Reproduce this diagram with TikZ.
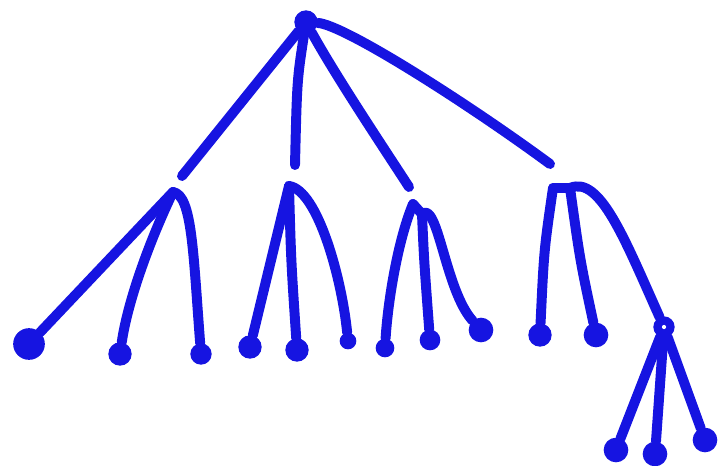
\documentclass[tikz,border=0pt]{standalone}
\usepackage{xcolor}
\usepackage{tikz}
\definecolor{inkblue}{RGB}{22,20,225}

\begin{document}
\begin{tikzpicture}[x=0.03cm,y=-0.03cm,
  pen/.style={line width=8.5pt,draw=inkblue,line cap=round,line join=round},
  blob/.style={circle,fill=inkblue,inner sep=0pt,minimum size=#1}]
  \useasboundingbox (0,0) rectangle (718,465);
  % top and the four inner points
  \node[blob=7mm] (root) at (306,22) {};
  \coordinate (e1) at (182,176); \coordinate (e2) at (295,165);
  \coordinate (e3) at (409,187); \coordinate (e4) at (550,164);
  \coordinate (a1) at (173,192); \coordinate (a2) at (289,186);
  \coordinate (a3) at (413,204); \coordinate (a4) at (553,188);
  \coordinate (b3) at (422,214); \coordinate (b4) at (570,188);
  \draw[pen] (root) -- (e1);
  \draw[pen] (root) .. controls (297,80) .. (e2);
  \draw[pen] (root) .. controls (335,75) and (385,150) .. (e3);
  \draw[pen] (root) .. controls (345,25) and (470,105) .. (e4);
  % leaves
  \node[blob=9.5mm] (l11) at (29,344) {};
  \node[blob=7mm] (l12) at (120,354) {};
  \node[blob=6.4mm] (l13) at (201,354) {};
  \node[blob=7mm] (l21) at (250,347) {};
  \node[blob=7mm] (l22) at (297,350) {};
  \node[blob=5mm] (l23) at (348,341) {};
  \node[blob=5.6mm] (l31) at (385,348) {};
  \node[blob=6.2mm] (l32) at (430,340) {};
  \node[blob=7.4mm] (l33) at (481,330) {};
  \node[blob=7mm] (l41) at (540,335) {};
  \node[blob=7.4mm] (l42) at (596,335) {};
  \node[blob=6.4mm] (m43) at (664,327) {};
  \node[blob=7.4mm] (l51) at (616,450) {};
  \node[blob=7.4mm] (l52) at (655,454) {};
  \node[blob=7.4mm] (l53) at (705,440) {};
  % first group
  \draw[pen] (a1) -- (l11);
  \draw[pen] (a1) .. controls (150,240) and (128,300) .. (l12);
  \draw[pen] (a1) .. controls (192,195) and (193,250) .. (l13);
  % second group
  \draw[pen] (a2) -- (l21);
  \draw[pen] (a2) .. controls (291,260) .. (l22);
  \draw[pen] (a2) .. controls (318,190) and (342,280) .. (l23);
  % third group
  \draw[pen] (a3) .. controls (398,240) and (388,300) .. (l31);
  \draw[pen] (a3) -- (b3) .. controls (424,260) .. (l32);
  \draw[pen] (b3) .. controls (438,200) and (445,290) .. (l33);
  % fourth group
  \draw[pen] (a4) .. controls (544,250) .. (l41);
  \draw[pen] (a4) -- (b4) .. controls (580,260) .. (l42);
  \draw[pen] (b4) .. controls (600,175) and (625,240) .. (m43);
  \draw[pen] (m43) -- (l51);
  \draw[pen] (m43) .. controls (660,390) .. (l52);
  \draw[pen] (m43) -- (l53);
  % small hole in the ring
  \fill[white] (m43) circle (1.8pt);
\end{tikzpicture}
\end{document}
